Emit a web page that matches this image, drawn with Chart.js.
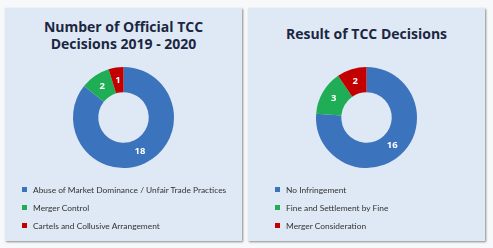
<!DOCTYPE html>
<html><head><meta charset="utf-8">
<script src="https://cdn.jsdelivr.net/npm/chart.js@4/dist/chart.umd.min.js"></script>
<style>
html,body{margin:0;padding:0;background:#f7f8f9;width:493px;height:248px;overflow:hidden;font-family:"Open Sans",sans-serif;}
.panel{position:absolute;top:8px;height:233px;background:#dfe9f5;box-shadow:1px 1px 2px rgba(0,0,0,0.45);}
.panel canvas{position:absolute;left:0;top:0;}
.title{position:absolute;left:0;right:0;text-align:center;font-weight:bold;font-size:14px;color:#1b2742;line-height:17px;}
.legend{position:absolute;font-family:Lato,sans-serif;font-size:8.4px;color:#333333;}
.legend div{height:18px;line-height:18px;white-space:nowrap;}
.legend span{display:inline-block;width:5px;height:5px;margin-right:6px;vertical-align:middle;position:relative;top:-1px;}
</style></head>
<body>
<div class="panel" id="p1" style="left:5px;width:237px;">
  <div class="title" style="top:10px;">Number of Official TCC<br>Decisions 2019 - 2020</div>
  <canvas id="c1"></canvas>
  <div class="legend" id="l1" style="left:17px;top:173px;"></div>
</div>
<div class="panel" id="p2" style="left:248px;width:237px;">
  <div class="title" style="top:17px;">Result of TCC Decisions</div>
  <canvas id="c2"></canvas>
  <div class="legend" id="l2" style="left:27px;top:173px;"></div>
</div>
<script>
const categories1 = ["Abuse of Market Dominance / Unfair Trade Practices", "Merger Control", "Cartels and Collusive Arrangement"];
const values1 = [18, 2, 1];
const categories2 = ["No Infringement", "Fine and Settlement by Fine", "Merger Consideration"];
const values2 = [16, 3, 2];
const colors = ["#3b73bd", "#1fae55", "#c30000"];

const labelPlugin = {
  id: 'sliceLabels',
  afterDatasetsDraw(chart) {
    const ctx = chart.ctx;
    const meta = chart.getDatasetMeta(0);
    const data = chart.data.datasets[0].data;
    ctx.save();
    ctx.fillStyle = '#ffffff';
    ctx.font = 'bold 9.5px "Open Sans", sans-serif';
    ctx.textAlign = 'center';
    ctx.textBaseline = 'middle';
    meta.data.forEach((arc, i) => {
      const p = arc.tooltipPosition();
      ctx.fillText(String(data[i]), p.x, p.y);
    });
    ctx.restore();
  }
};

function makeChart(canvasId, legendId, labels, values) {
  const el = document.getElementById(canvasId);
  el.width = 237; el.height = 233;
  new Chart(el, {
    type: 'doughnut',
    data: { labels: labels, datasets: [{ data: values, backgroundColor: colors, borderWidth: 0 }] },
    options: {
      responsive: false,
      animation: false,
      cutout: '50%',
      layout: { padding: { top: 59, bottom: 73, left: 0, right: 0 } },
      plugins: { legend: { display: false }, tooltip: { enabled: false }, title: { display: false } }
    },
    plugins: [labelPlugin]
  });
  const lg = document.getElementById(legendId);
  labels.forEach((l, i) => {
    const d = document.createElement('div');
    const s = document.createElement('span');
    s.style.background = colors[i];
    d.appendChild(s);
    d.appendChild(document.createTextNode(l));
    lg.appendChild(d);
  });
}
makeChart('c1', 'l1', categories1, values1);
makeChart('c2', 'l2', categories2, values2);
</script>
</body></html>
